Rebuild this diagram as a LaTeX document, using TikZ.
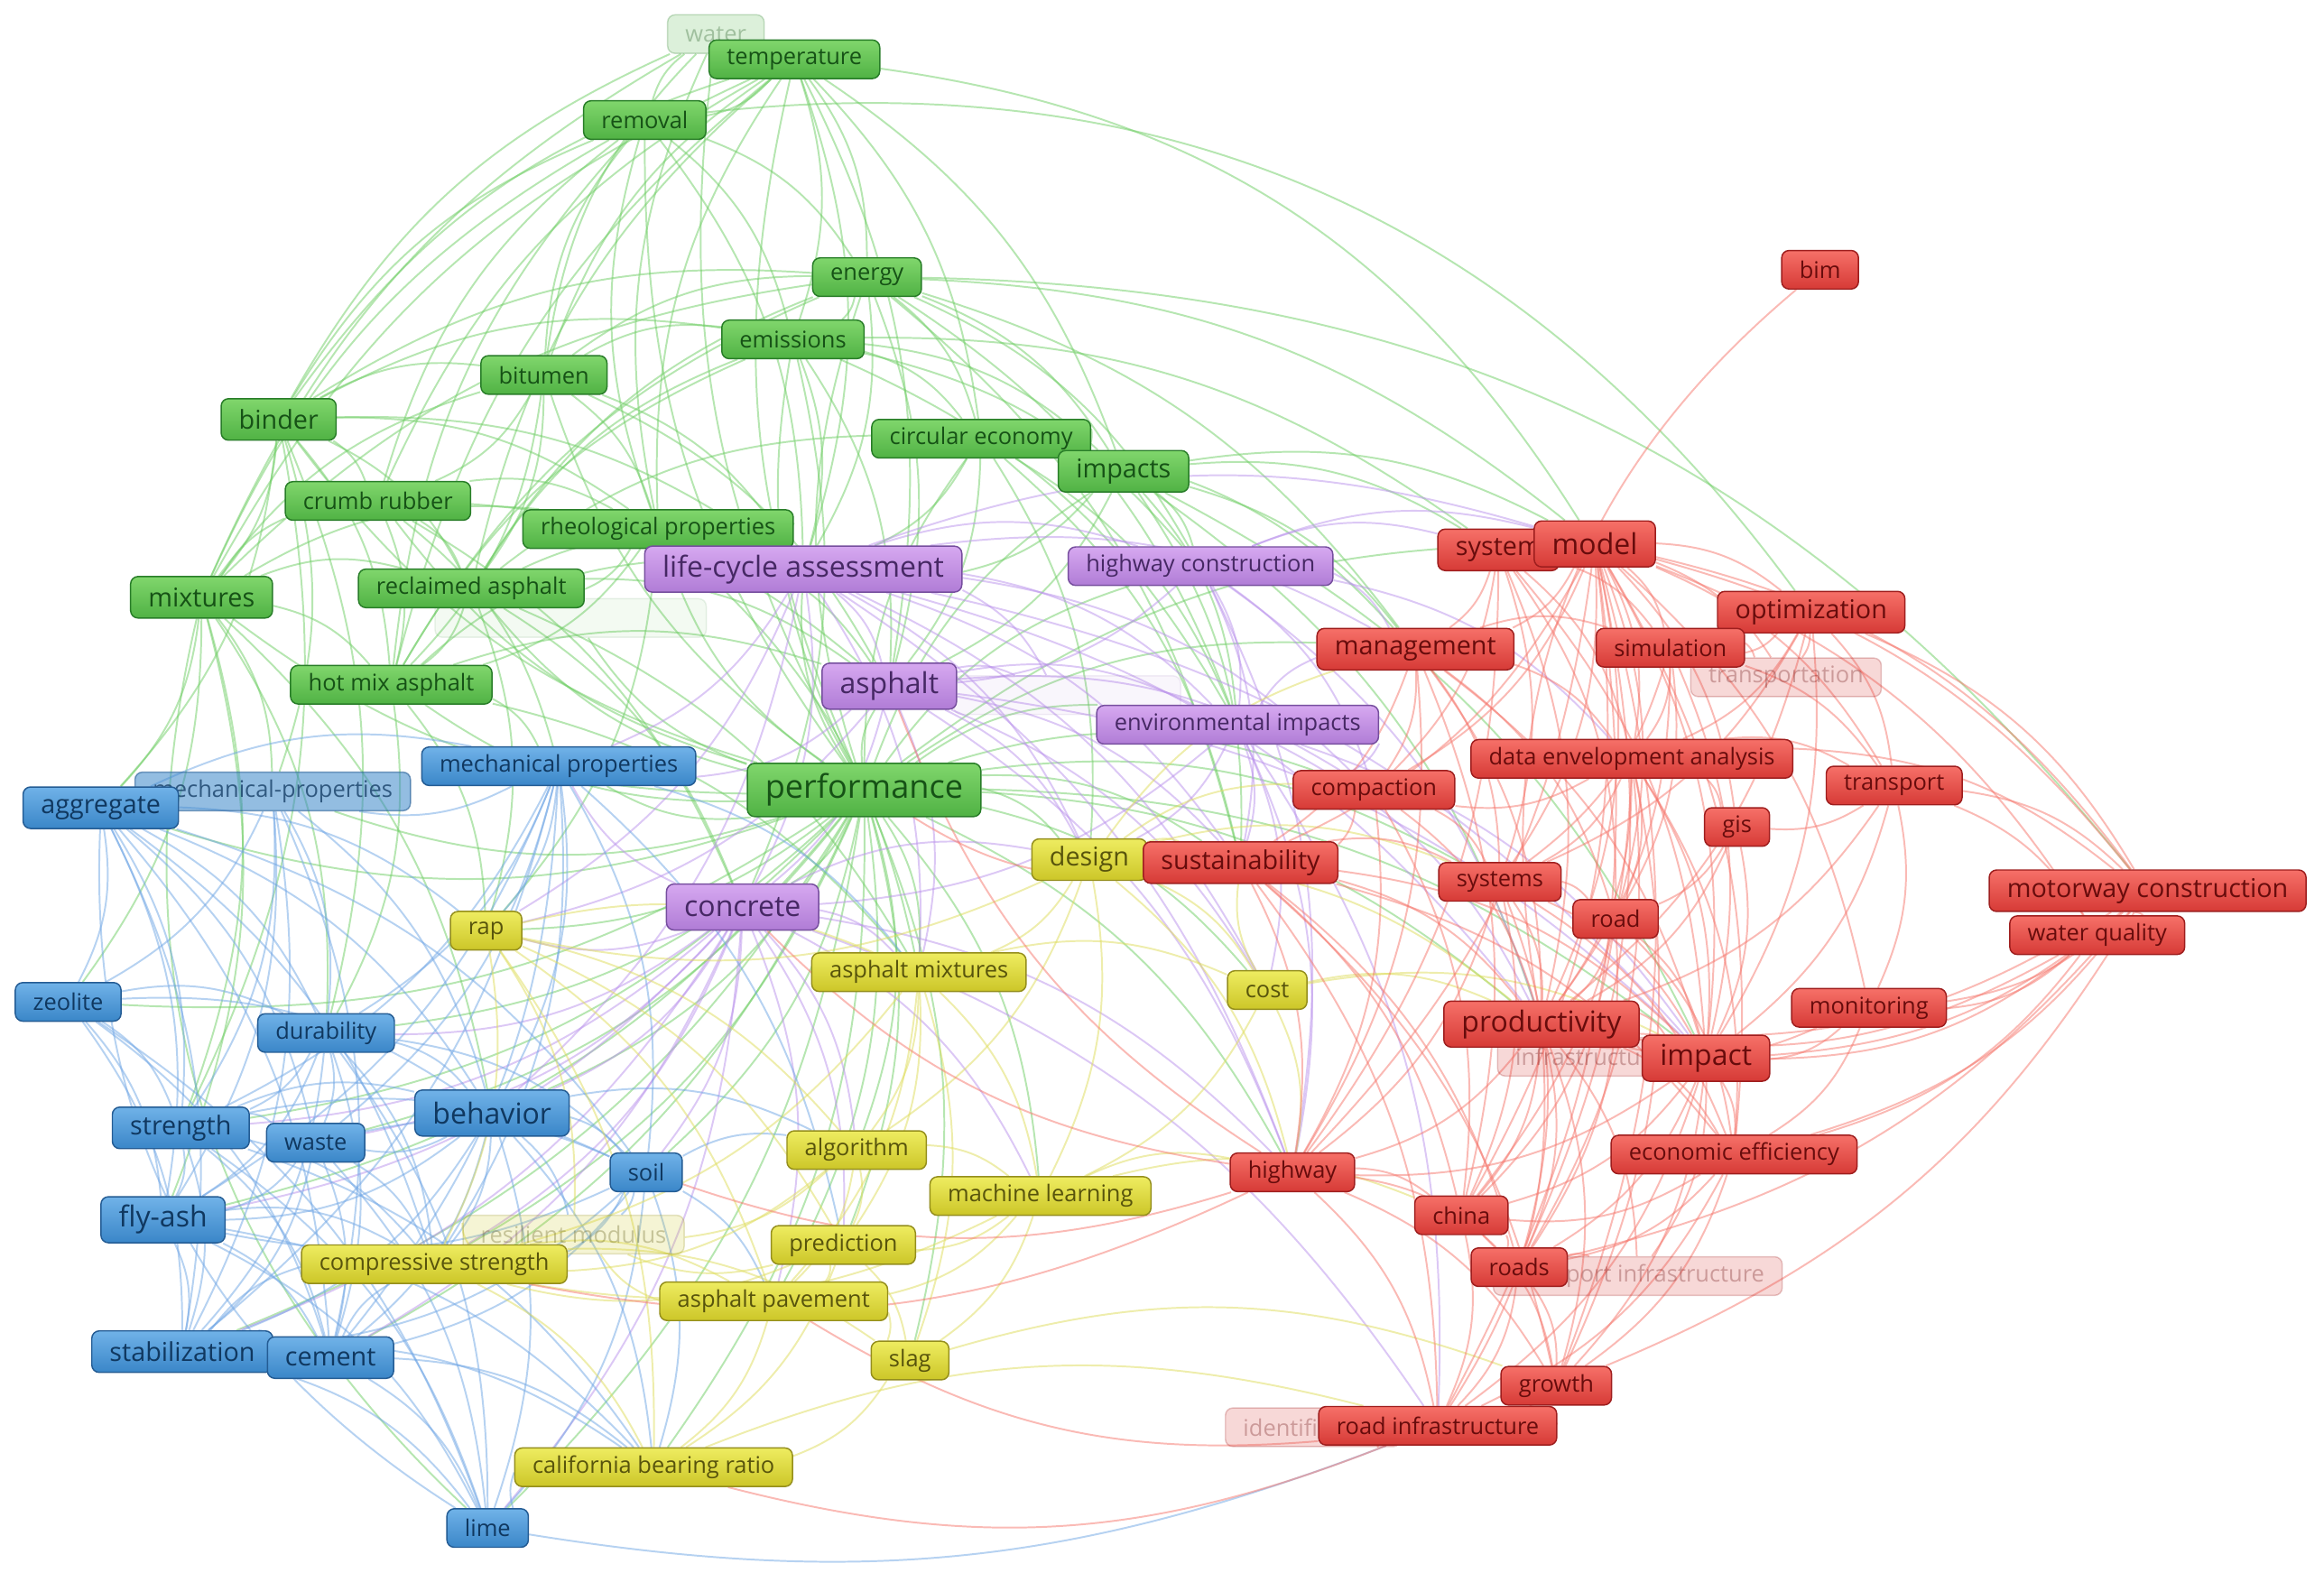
\documentclass[tikz,border=0pt]{standalone}
\usepackage{fontspec}
\setmainfont{Open Sans}
\usetikzlibrary{backgrounds}

\definecolor{gTop}{RGB}{128,214,108}
\definecolor{gBot}{RGB}{80,178,68}
\definecolor{gLine}{RGB}{40,125,40}
\definecolor{gText}{RGB}{22,82,22}
\definecolor{gLink}{RGB}{110,205,100}
\definecolor{pTop}{RGB}{214,168,240}
\definecolor{pBot}{RGB}{176,124,214}
\definecolor{pLine}{RGB}{118,78,158}
\definecolor{pText}{RGB}{70,40,100}
\definecolor{pLink}{RGB}{185,145,235}
\definecolor{bTop}{RGB}{112,178,232}
\definecolor{bBot}{RGB}{58,134,200}
\definecolor{bLine}{RGB}{36,92,148}
\definecolor{bText}{RGB}{16,56,96}
\definecolor{bLink}{RGB}{110,165,228}
\definecolor{yTop}{RGB}{238,236,96}
\definecolor{yBot}{RGB}{204,198,40}
\definecolor{yLine}{RGB}{148,142,28}
\definecolor{yText}{RGB}{88,84,12}
\definecolor{yLink}{RGB}{222,220,90}
\definecolor{rTop}{RGB}{246,112,104}
\definecolor{rBot}{RGB}{214,58,54}
\definecolor{rLine}{RGB}{158,30,30}
\definecolor{rText}{RGB}{104,12,12}
\definecolor{rLink}{RGB}{245,118,108}

\providecommand{\vosLinkWidth}{1.2pt}
\providecommand{\vosLinkOpacity}{0.5}
\providecommand{\vosBend}{18}

\tikzset{
  kwbox/.style={rounded corners=5pt, line width=0.9pt, inner xsep=12pt, inner ysep=0pt,
    minimum height=26pt, font=\fontsize{15.5}{15.5}\selectfont},
  clGreen/.style={kwbox, top color=gTop, bottom color=gBot, draw=gLine, text=gText},
  clPurple/.style={kwbox, top color=pTop, bottom color=pBot, draw=pLine, text=pText},
  clBlue/.style={kwbox, top color=bTop, bottom color=bBot, draw=bLine, text=bText},
  clYellow/.style={kwbox, top color=yTop, bottom color=yBot, draw=yLine, text=yText},
  clRed/.style={kwbox, top color=rTop, bottom color=rBot, draw=rLine, text=rText},
  faded/.style={kwbox, fill=#1Bot, draw=#1Line, text=#1Text, fill opacity=0.2, draw opacity=0.25, text opacity=0.3},
  szM/.style={minimum height=28pt, font=\fontsize{17.5}{17.5}\selectfont},
  szL/.style={minimum height=31pt, font=\fontsize{19.5}{19.5}\selectfont},
  szX/.style={minimum height=36pt, font=\fontsize{22}{22}\selectfont},
  lkG/.style={color=gLink}, lkP/.style={color=pLink}, lkB/.style={color=bLink},
  lkY/.style={color=yLink}, lkR/.style={color=rLink}
}

\begin{document}
\begin{tikzpicture}
% VOSviewer-like keyword map, one unit = one pixel of the map
\def\vosunit{1pt}
\begin{scope}[x=\vosunit, y=-\vosunit, line cap=round, line join=round]
  \useasboundingbox (0,0) rectangle (1568,1061);
  % Faded labels
  \node[faded=g] (water) at (483,23) {water};
  \node[faded=g, minimum width=183pt, fill opacity=0.07, draw opacity=0.1] (gHidden) at (385,417) {};
  \node[faded=p, minimum width=153pt, fill opacity=0.07, draw opacity=0.1] (pHidden) at (720,469) {};
  \node[faded=y] (resModulus) at (387,833) {resilient modulus};
  \node[faded=r] (transportation) at (1205,457) {transportation};
  \node[faded=r] (infra) at (1072,713) {infrastructure};
  \node[faded=r] (transInfra) at (1105,861) {transport infrastructure};
  \node[faded=r] (identification) at (886,963) {identification};
  \node[faded=b, fill opacity=0.55, draw opacity=0.6, text opacity=0.75] (mechPropsB) at (184,534) {mechanical-properties};
  % Cluster green
  \node[clGreen] (temperature) at (536,40) {temperature};
  \node[clGreen] (removal) at (435,81) {removal};
  \node[clGreen] (energy) at (585,187) {energy};
  \node[clGreen] (emissions) at (535,229) {emissions};
  \node[clGreen] (bitumen) at (367,253) {bitumen};
  \node[clGreen, szM] (binder) at (188,283) {binder};
  \node[clGreen] (circularEconomy) at (662,296) {circular economy};
  \node[clGreen, szM] (impacts) at (758,318) {impacts};
  \node[clGreen] (crumbRubber) at (255,338) {crumb rubber};
  \node[clGreen] (rheoProps) at (444,357) {rheological properties};
  \node[clGreen] (reclaimed) at (318,397) {reclaimed asphalt};
  \node[clGreen, szM] (mixtures) at (136,403) {mixtures};
  \node[clGreen] (hotMix) at (264,462) {hot mix asphalt};
  \node[clGreen, szX] (performance) at (583,533) {performance};
  % Cluster purple
  \node[clPurple, szL] (lca) at (542,384) {life-cycle assessment};
  \node[clPurple] (hwyConstruction) at (810,382) {highway construction};
  \node[clPurple, szL] (asphalt) at (600,463) {asphalt};
  \node[clPurple] (envImpacts) at (835,489) {environmental impacts};
  \node[clPurple, szL] (concrete) at (501,612) {concrete};
  % Cluster blue
  \node[clBlue] (mechProps) at (377,517) {mechanical properties};
  \node[clBlue, szM] (aggregate) at (68,545) {aggregate};
  \node[clBlue] (zeolite) at (46,676) {zeolite};
  \node[clBlue] (durability) at (220,697) {durability};
  \node[clBlue, szM] (strength) at (122,761) {strength};
  \node[clBlue, szL] (behavior) at (332,751) {behavior};
  \node[clBlue] (waste) at (213,771) {waste};
  \node[clBlue] (soil) at (436,791) {soil};
  \node[clBlue, szL] (flyAsh) at (110,823) {fly-ash};
  \node[clBlue, szM] (stabilization) at (123,912) {stabilization};
  \node[clBlue, szM] (cement) at (223,916) {cement};
  \node[clBlue] (lime) at (329,1031) {lime};
  % Cluster yellow
  \node[clYellow, szM] (design) at (735,580) {design};
  \node[clYellow] (rap) at (328,628) {rap};
  \node[clYellow] (asphMixtures) at (620,656) {asphalt mixtures};
  \node[clYellow] (cost) at (855,668) {cost};
  \node[clYellow] (algorithm) at (578,776) {algorithm};
  \node[clYellow] (machineLearning) at (702,807) {machine learning};
  \node[clYellow] (prediction) at (569,840) {prediction};
  \node[clYellow] (compStrength) at (293,853) {compressive strength};
  \node[clYellow] (asphPavement) at (522,878) {asphalt pavement};
  \node[clYellow] (slag) at (614,918) {slag};
  \node[clYellow] (cbr) at (441,990) {california bearing ratio};
  % Cluster red
  \node[clRed] (bim) at (1228,182) {bim};
  \node[clRed, szM] (system) at (1011,371) {system};
  \node[clRed, szL] (model) at (1076,367) {model};
  \node[clRed, szM] (optimization) at (1222,413) {optimization};
  \node[clRed, szM] (management) at (955,438) {management};
  \node[clRed] (simulation) at (1127,437) {simulation};
  \node[clRed] (dea) at (1101,512) {data envelopment analysis};
  \node[clRed] (compaction) at (927,533) {compaction};
  \node[clRed] (transport) at (1278,530) {transport};
  \node[clRed] (gis) at (1172,558) {gis};
  \node[clRed, szM] (sustainability) at (837,582) {sustainability};
  \node[clRed] (systems) at (1012,595) {systems};
  \node[clRed, szM] (motorway) at (1449,601) {motorway construction};
  \node[clRed] (road) at (1090,620) {road};
  \node[clRed] (waterQuality) at (1415,631) {water quality};
  \node[clRed] (monitoring) at (1261,680) {monitoring};
  \node[clRed, szL] (productivity) at (1040,691) {productivity};
  \node[clRed, szL] (impact) at (1151,714) {impact};
  \node[clRed] (econEfficiency) at (1170,779) {economic efficiency};
  \node[clRed] (highway) at (872,791) {highway};
  \node[clRed] (china) at (986,820) {china};
  \node[clRed] (roads) at (1025,855) {roads};
  \node[clRed] (growth) at (1050,935) {growth};
  \node[clRed] (roadInfra) at (970,962) {road infrastructure};
  % Links, behind the labels
  \begin{scope}[on background layer, every edge/.style={draw, bend left=\vosBend,
      line width=\vosLinkWidth, draw opacity=\vosLinkOpacity}]
    % green
    \path[lkG] (performance) edge (temperature) edge (removal) edge (energy) edge (emissions) edge (bitumen) edge (binder) edge (circularEconomy) edge (impacts) edge (crumbRubber) edge (rheoProps) edge (reclaimed) edge (mixtures) edge (hotMix) edge (lca) edge (asphalt) edge (concrete) edge (mechProps) edge (mechPropsB) edge (aggregate) edge (durability) edge (strength) edge (behavior) edge (flyAsh) edge (stabilization) edge (cement) edge (soil) edge (rap) edge (asphMixtures) edge (design) edge (algorithm) edge (machineLearning) edge (prediction) edge (compStrength) edge (asphPavement) edge (slag) edge (cbr) edge (sustainability) edge (compaction) edge (highway) edge (model) edge (management) edge (productivity) edge (impact) edge (envImpacts) edge (hwyConstruction) edge (cost) edge (zeolite) edge (lime) edge (waste) edge (systems) edge (water) edge (gHidden);
    \path[lkG] (binder) edge (temperature) edge (bitumen) edge (crumbRubber) edge (rheoProps) edge (reclaimed) edge (mixtures) edge (hotMix) edge (aggregate) edge (mechPropsB) edge (removal) edge (water) edge (durability) edge (strength) edge (emissions) edge (energy) edge (lca);
    \path[lkG] (mixtures) edge (temperature) edge (removal) edge (bitumen) edge (crumbRubber) edge (rheoProps) edge (reclaimed) edge (hotMix) edge (aggregate) edge (mechPropsB) edge (zeolite) edge (durability) edge (strength) edge (flyAsh) edge (behavior) edge (water) edge (energy) edge[bend left=-30] (lime);
    \path[lkG] (bitumen) edge (temperature) edge (water) edge (crumbRubber) edge (rheoProps) edge (reclaimed) edge (hotMix) edge (lca) edge (asphalt) edge (emissions) edge (energy) edge (removal);
    \path[lkG] (crumbRubber) edge (rheoProps) edge (reclaimed) edge (hotMix) edge (temperature) edge (removal) edge (asphalt) edge (concrete) edge (mechProps);
    \path[lkG] (rheoProps) edge (temperature) edge (removal) edge (reclaimed) edge (hotMix) edge (lca) edge (asphalt) edge (rap) edge (asphMixtures) edge (water);
    \path[lkG] (reclaimed) edge (hotMix) edge (lca) edge (asphalt) edge (rap) edge (asphMixtures) edge (emissions) edge (energy) edge (circularEconomy) edge (concrete) edge (temperature);
    \path[lkG] (hotMix) edge (lca) edge (asphalt) edge (emissions) edge (energy) edge (rap) edge (asphMixtures) edge (mechProps) edge (durability) edge (temperature) edge (removal);
    \path[lkG] (temperature) edge (removal) edge (energy) edge (emissions) edge (circularEconomy) edge (impacts) edge (lca) edge (asphalt) edge (water) edge[bend left=25] (model);
    \path[lkG] (removal) edge (emissions) edge (lca) edge (energy) edge (water) edge[bend left=30] (optimization);
    \path[lkG] (energy) edge (emissions) edge (circularEconomy) edge (impacts) edge (lca) edge (asphalt) edge (hwyConstruction) edge (management) edge (model) edge (envImpacts) edge (sustainability) edge[bend left=25] (motorway);
    \path[lkG] (emissions) edge (circularEconomy) edge (impacts) edge (lca) edge (asphalt) edge (envImpacts) edge (hwyConstruction) edge (concrete) edge (system);
    \path[lkG] (circularEconomy) edge (impacts) edge (lca) edge (asphalt) edge (envImpacts) edge (sustainability) edge (management) edge (design);
    \path[lkG] (impacts) edge (lca) edge (asphalt) edge (hwyConstruction) edge (envImpacts) edge (sustainability) edge (model) edge (system) edge (management) edge (productivity) edge (impact);
    % purple
    \path[lkP] (lca) edge (asphalt) edge (hwyConstruction) edge (envImpacts) edge (concrete) edge (sustainability) edge (design) edge (cost) edge (management) edge (model) edge (impact) edge (productivity) edge (compaction) edge (asphMixtures) edge (rap) edge (mechProps) edge (behavior) edge (pHidden) edge (highway);
    \path[lkP] (hwyConstruction) edge (asphalt) edge (envImpacts) edge (management) edge (model) edge (system) edge (productivity) edge (dea) edge (sustainability) edge (highway) edge (compaction);
    \path[lkP] (asphalt) edge (envImpacts) edge (concrete) edge (design) edge (asphMixtures) edge (rap) edge (mechProps) edge (sustainability) edge (highway) edge (compaction) edge (impact) edge (pHidden) edge (cost);
    \path[lkP] (envImpacts) edge (concrete) edge (sustainability) edge (management) edge (compaction) edge (design) edge (cost) edge (highway) edge (impact) edge (roadInfra) edge (productivity);
    \path[lkP] (concrete) edge (mechProps) edge (behavior) edge (durability) edge (strength) edge (flyAsh) edge (cement) edge (soil) edge (rap) edge (asphMixtures) edge (algorithm) edge (machineLearning) edge (prediction) edge (compStrength) edge (asphPavement) edge (design) edge (highway) edge (lime) edge (waste) edge (stabilization) edge (roadInfra);
    % blue
    \path[lkB] (aggregate) edge (mechProps) edge (zeolite) edge (durability) edge (strength) edge (behavior) edge (waste) edge (flyAsh) edge (stabilization) edge (cement) edge[bend left=-30] (lime) edge (soil) edge (compStrength) edge (rap);
    \path[lkB] (mechProps) edge (mechPropsB) edge (durability) edge (strength) edge (behavior) edge (waste) edge (flyAsh) edge (cement) edge (soil) edge (rap) edge (compStrength) edge (asphMixtures) edge (prediction) edge (stabilization);
    \path[lkB] (mechPropsB) edge (zeolite) edge (durability) edge (strength) edge (behavior) edge (flyAsh) edge (stabilization) edge (cement);
    \path[lkB] (zeolite) edge (strength) edge (flyAsh) edge (stabilization) edge (cement) edge (lime) edge (durability) edge (behavior);
    \path[lkB] (durability) edge (strength) edge (behavior) edge (waste) edge (flyAsh) edge (stabilization) edge (cement) edge (soil) edge (compStrength) edge (lime);
    \path[lkB] (strength) edge (behavior) edge (waste) edge (flyAsh) edge (stabilization) edge (cement) edge (lime) edge (soil) edge (compStrength) edge (cbr);
    \path[lkB] (behavior) edge (waste) edge (flyAsh) edge (stabilization) edge (cement) edge (soil) edge (lime) edge (compStrength) edge (resModulus) edge (cbr) edge (algorithm);
    \path[lkB] (waste) edge (flyAsh) edge (stabilization) edge (cement) edge (lime) edge (soil) edge (compStrength);
    \path[lkB] (soil) edge (flyAsh) edge (stabilization) edge (cement) edge (lime) edge (cbr) edge (resModulus) edge (compStrength) edge (algorithm) edge (asphPavement);
    \path[lkB] (flyAsh) edge (stabilization) edge (cement) edge (lime) edge (compStrength) edge (cbr);
    \path[lkB] (stabilization) edge (cement) edge (lime) edge (compStrength) edge (cbr);
    \path[lkB] (cement) edge (lime) edge (compStrength) edge (cbr);
    \path[lkB] (lime) edge (cbr) edge[bend left=-15] (roadInfra);
    % yellow
    \path[lkY] (design) edge (sustainability) edge (cost) edge (asphMixtures) edge (rap) edge (algorithm) edge (machineLearning) edge (compaction) edge (highway) edge (systems) edge (productivity) edge (management);
    \path[lkY] (rap) edge (asphMixtures) edge (compStrength) edge (asphPavement) edge (resModulus) edge (cbr) edge (algorithm) edge (prediction);
    \path[lkY] (asphMixtures) edge (cost) edge (algorithm) edge (machineLearning) edge (prediction) edge (asphPavement) edge (slag) edge (compStrength);
    \path[lkY] (cost) edge (sustainability) edge (highway) edge (productivity) edge (impact) edge (machineLearning);
    \path[lkY] (algorithm) edge (machineLearning) edge (prediction) edge (asphPavement) edge (compStrength) edge (resModulus);
    \path[lkY] (machineLearning) edge (prediction) edge (asphPavement) edge (slag) edge (compStrength) edge (highway) edge (china);
    \path[lkY] (prediction) edge (asphPavement) edge (slag) edge (compStrength) edge (resModulus) edge (cbr);
    \path[lkY] (compStrength) edge (resModulus) edge (asphPavement) edge (slag) edge (cbr);
    \path[lkY] (asphPavement) edge (slag) edge (cbr) edge (resModulus);
    \path[lkY] (slag) edge (cbr) edge (growth);
    \path[lkY] (cbr) edge (roadInfra);
    % red
    \path[lkR] (model) edge (system) edge (optimization) edge (management) edge (simulation) edge (transportation) edge (dea) edge (compaction) edge (transport) edge (gis) edge (sustainability) edge (systems) edge (motorway) edge (road) edge (waterQuality) edge (monitoring) edge (productivity) edge (impact) edge (econEfficiency) edge (highway) edge (china) edge (roads) edge (growth) edge (roadInfra);
    \path[lkR] (system) edge (management) edge (simulation) edge (dea) edge (compaction) edge (systems) edge (productivity) edge (impact) edge (road) edge (highway);
    \path[lkR] (optimization) edge (simulation) edge (transportation) edge (dea) edge (transport) edge (motorway) edge (impact) edge (productivity) edge (systems);
    \path[lkR] (management) edge (simulation) edge (dea) edge (compaction) edge (sustainability) edge (systems) edge (road) edge (productivity) edge (impact) edge (highway) edge (china);
    \path[lkR] (simulation) edge (transportation) edge (dea) edge (transport) edge (systems) edge (productivity) edge (impact) edge (road);
    \path[lkR] (dea) edge (compaction) edge (transport) edge (gis) edge (systems) edge (road) edge (productivity) edge (impact) edge (econEfficiency) edge (china) edge (roads) edge (growth) edge (motorway);
    \path[lkR] (compaction) edge (sustainability) edge (systems) edge (productivity) edge (highway) edge (china);
    \path[lkR] (transport) edge (motorway) edge (waterQuality) edge (impact) edge (monitoring) edge (productivity) edge (gis);
    \path[lkR] (gis) edge (road) edge (impact) edge (productivity);
    \path[lkR] (sustainability) edge (systems) edge (productivity) edge (impact) edge (highway) edge (china) edge (roads) edge (growth) edge (roadInfra) edge (econEfficiency) edge (performance);
    \path[lkR] (systems) edge (road) edge (productivity) edge (impact) edge (china) edge (roads) edge (highway) edge (econEfficiency);
    \path[lkR] (motorway) edge (waterQuality) edge (monitoring) edge (impact) edge (productivity) edge (econEfficiency) edge (roads) edge (growth) edge[bend left=-20] (model);
    \path[lkR] (road) edge (productivity) edge (impact) edge (econEfficiency) edge (china) edge (roads);
    \path[lkR] (waterQuality) edge (monitoring) edge (impact) edge (productivity) edge (econEfficiency);
    \path[lkR] (monitoring) edge (impact) edge (productivity) edge (econEfficiency);
    \path[lkR] (productivity) edge (impact) edge (econEfficiency) edge (highway) edge (china) edge (roads) edge (growth) edge (roadInfra) edge (transInfra) edge (infra);
    \path[lkR] (impact) edge (econEfficiency) edge (highway) edge (china) edge (roads) edge (growth) edge (roadInfra) edge (transInfra);
    \path[lkR] (econEfficiency) edge (china) edge (roads) edge (growth) edge (roadInfra);
    \path[lkR] (highway) edge (china) edge (roads) edge (growth) edge (roadInfra) edge (concrete) edge (asphalt) edge (soil) edge (compStrength);
    \path[lkR] (china) edge (roads) edge (growth) edge (roadInfra);
    \path[lkR] (roads) edge (growth) edge (roadInfra) edge (transInfra);
    \path[lkR] (growth) edge (roadInfra);
    \path[lkR] (bim) edge[bend left=-30] (productivity);
    \path[lkR] (roadInfra) edge (asphPavement) edge (cbr) edge (identification);
  \end{scope}
\end{scope}
\end{tikzpicture}
\end{document}
